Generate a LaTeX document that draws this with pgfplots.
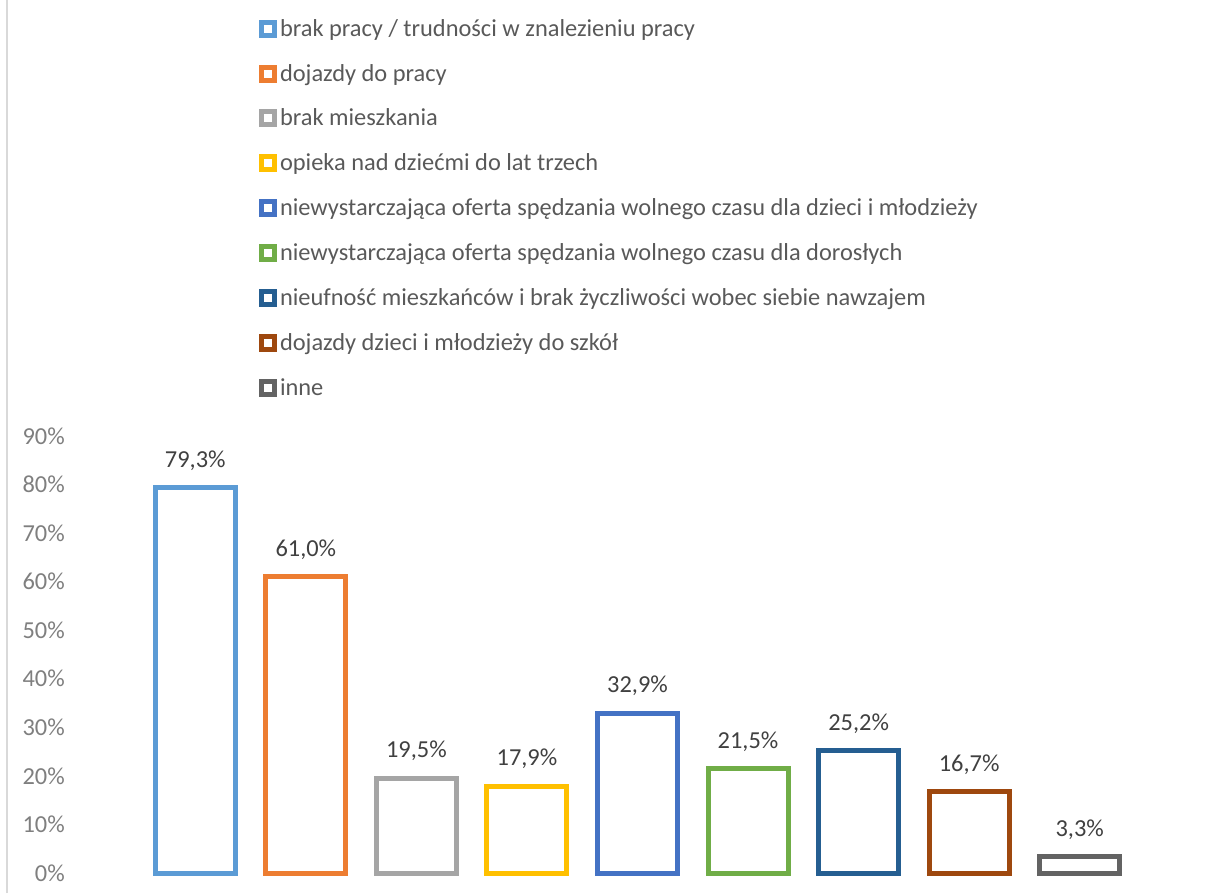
\documentclass[border=0pt]{standalone}
\usepackage{fontspec}
\setmainfont{Carlito}
\usepackage{pgfplots}
\pgfplotsset{compat=1.18}
\definecolor{c1}{HTML}{5B9BD5}
\definecolor{c2}{HTML}{ED7D31}
\definecolor{c3}{HTML}{A5A5A5}
\definecolor{c4}{HTML}{FFC000}
\definecolor{c5}{HTML}{4472C4}
\definecolor{c6}{HTML}{70AD47}
\definecolor{c7}{HTML}{255E91}
\definecolor{c8}{HTML}{9E480E}
\definecolor{c9}{HTML}{636363}
\definecolor{tickgray}{HTML}{7F7F7F}
\definecolor{labgray}{HTML}{404040}
\definecolor{leggray}{HTML}{595959}
\newcommand{\chartfont}{\fontsize{18.3}{21}\selectfont}
\pgfplotsset{
  barsty/.style={fill=white, line width=3.75pt, bar shift=0pt, bar width=60pt},
}
\begin{document}
\begin{tikzpicture}
\begin{axis}[
  width=746.25pt, height=327.75pt, scale only axis,
  xmin=-0.5, xmax=8.5, ymin=0, ymax=90,
  ybar, clip=false,
  axis line style={draw=none}, tick style={draw=none},
  xtick=\empty, ytick={0,10,...,90},
  yticklabel={\pgfmathprintnumber{\tick}\%},
  /pgf/number format/assume math mode=true,
  yticklabel style={font=\chartfont, color=tickgray, anchor=east, inner sep=0pt, xshift=-56.25pt},
  nodes near coords={\pgfmathprintnumber[fixed,fixed zerofill,precision=1,use comma]{\pgfplotspointmeta}\%},
  every node near coord/.append style={font=\chartfont, color=labgray, anchor=base, inner sep=0pt, yshift=15.4pt},
  legend cell align=left,
  legend image code/.code={\draw[line width=3.75pt, fill=white] (0pt,-2.5pt) rectangle (9.75pt,7.25pt);},
  legend style={draw=none, fill=none, at={(0.1196,1.953)}, anchor=north west,
    inner sep=0pt, outer sep=0pt, font=\chartfont, text=leggray,
    row sep=16.85pt, column sep=0pt,
    nodes={inner sep=0pt, text height=11pt, text depth=4.5pt},
    /tikz/every odd column/.append style={column sep=2.25pt}},
]
\addplot[barsty, draw=c1] coordinates {(0,79.3)};
\addlegendentry{brak pracy / trudności w znalezieniu pracy}
\addplot[barsty, draw=c2] coordinates {(1,61.0)};
\addlegendentry{dojazdy do pracy}
\addplot[barsty, draw=c3] coordinates {(2,19.5)};
\addlegendentry{brak mieszkania}
\addplot[barsty, draw=c4] coordinates {(3,17.9)};
\addlegendentry{opieka nad dziećmi do lat trzech}
\addplot[barsty, draw=c5] coordinates {(4,32.9)};
\addlegendentry{niewystarczająca oferta spędzania wolnego czasu dla dzieci i młodzieży}
\addplot[barsty, draw=c6] coordinates {(5,21.5)};
\addlegendentry{niewystarczająca oferta spędzania wolnego czasu dla dorosłych}
\addplot[barsty, draw=c7] coordinates {(6,25.2)};
\addlegendentry{nieufność mieszkańców i brak życzliwości wobec siebie nawzajem}
\addplot[barsty, draw=c8] coordinates {(7,16.7)};
\addlegendentry{dojazdy dzieci i młodzieży do szkół}
\addplot[barsty, draw=c9] coordinates {(8,3.3)};
\addlegendentry{inne}
\end{axis}
% chart border remnant on the left
\draw[color=black!15, line width=1.5pt] (-99.75pt,-15pt) -- (-99.75pt,654.75pt);
\pgfresetboundingbox
\useasboundingbox (-105pt,-15pt) rectangle (799.5pt,654.75pt);
\end{tikzpicture}
\end{document}
